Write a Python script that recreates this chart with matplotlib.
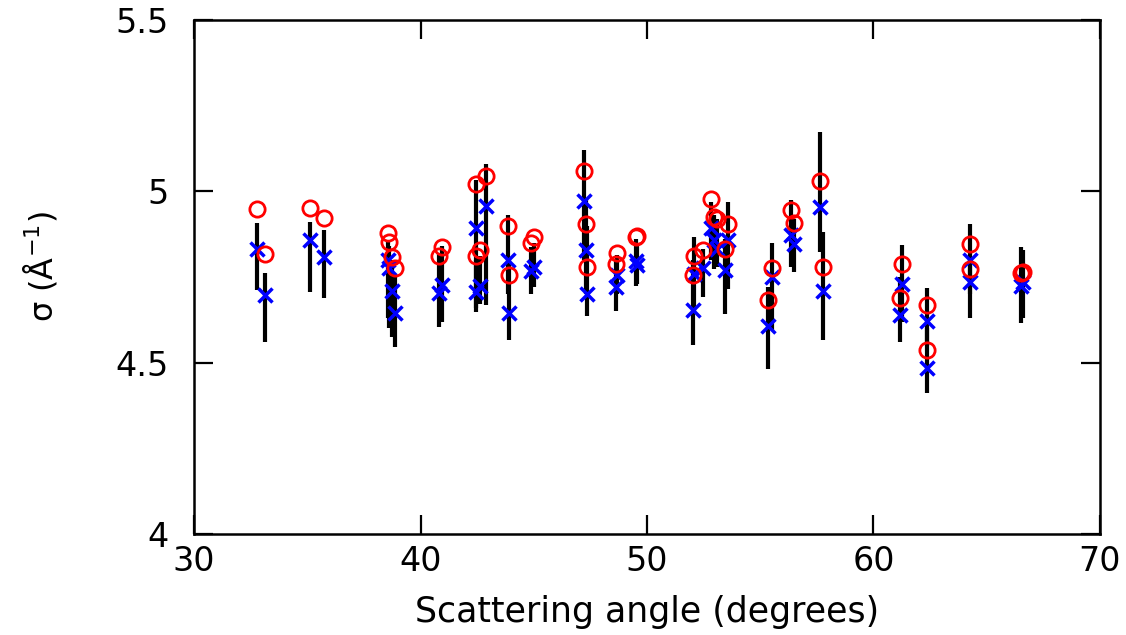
import matplotlib
matplotlib.use("Agg")
import matplotlib.pyplot as plt

angle = [32.77, 33.13, 35.12, 35.75, 38.55, 38.61, 38.73, 38.87, 40.83, 40.96,
         42.45, 42.88, 42.45, 42.63, 43.88, 43.90, 44.87, 45.01, 47.23, 47.29,
         47.33, 48.66, 48.62, 49.50, 49.55, 52.02, 52.09, 52.46, 52.83, 52.98,
         53.08, 53.56, 53.44, 55.50, 55.36, 56.36, 56.50, 57.64, 57.76, 61.24,
         61.17, 62.38, 62.38, 64.26, 64.26, 66.50, 66.62]
sigma_circle = [4.948, 4.818, 4.950, 4.923, 4.877, 4.852, 4.808, 4.775, 4.810, 4.838,
                5.020, 5.044, 4.810, 4.828, 4.899, 4.755, 4.848, 4.867, 5.059, 4.906,
                4.779, 4.820, 4.789, 4.867, 4.870, 4.755, 4.810, 4.830, 4.977, 4.925,
                4.920, 4.906, 4.833, 4.775, 4.682, 4.945, 4.908, 5.029, 4.778, 4.789,
                4.689, 4.668, 4.538, 4.845, 4.773, 4.763, 4.765]
sigma_cross = [4.831, 4.697, 4.857, 4.807, 4.799, 4.775, 4.709, 4.646, 4.702, 4.728,
               4.894, 4.957, 4.706, 4.723, 4.799, 4.646, 4.767, 4.779, 4.972, 4.828,
               4.700, 4.755, 4.721, 4.797, 4.784, 4.655, 4.758, 4.776, 4.894, 4.857,
               4.833, 4.857, 4.770, 4.750, 4.607, 4.872, 4.845, 4.955, 4.708, 4.731,
               4.639, 4.621, 4.485, 4.799, 4.736, 4.724, 4.736]
bar_low = [4.711, 4.561, 4.705, 4.689, 4.630, 4.600, 4.575, 4.546, 4.604, 4.620,
           4.648, 4.668, 4.660, 4.670, 4.700, 4.566, 4.700, 4.720, 4.800, 4.700,
           4.636, 4.700, 4.651, 4.724, 4.730, 4.551, 4.650, 4.692, 4.800, 4.772,
           4.780, 4.716, 4.641, 4.595, 4.483, 4.780, 4.765, 4.823, 4.566, 4.620,
           4.559, 4.550, 4.413, 4.700, 4.631, 4.617, 4.630]
bar_high = [4.907, 4.763, 4.911, 4.888, 4.857, 4.840, 4.800, 4.760, 4.820, 4.840,
            5.032, 5.081, 4.800, 4.810, 4.930, 4.800, 4.838, 4.850, 5.122, 4.980,
            4.900, 4.813, 4.800, 4.862, 4.850, 4.800, 4.867, 4.833, 4.970, 4.930,
            4.920, 4.969, 4.860, 4.850, 4.721, 4.974, 4.920, 5.172, 4.881, 4.843,
            4.750, 4.718, 4.600, 4.906, 4.800, 4.838, 4.830]

x_ticks = [30, 40, 50, 60, 70]
y_ticks = [4, 4.5, 5, 5.5]
y_tick_labels = ["4", "4.5", "5", "5.5"]

fig = plt.figure(figsize=(11.26, 6.35), dpi=100)
ax = fig.add_axes([0.1723, 0.159, 0.8046, 0.8095])

ax.vlines(angle, bar_low, bar_high, colors="black", linewidth=3, zorder=2)
ax.plot(angle, sigma_cross, linestyle="none", marker="x", color="#0000ff",
        markersize=10, markeredgewidth=2.5, zorder=3)
ax.plot(angle, sigma_circle, linestyle="none", marker="o", markerfacecolor="none",
        markeredgecolor="#ff0000", markersize=11, markeredgewidth=2, zorder=4)

ax.set_xlim(30, 70)
ax.set_ylim(4, 5.5)
ax.set_xticks(x_ticks)
ax.set_yticks(y_ticks)
ax.set_yticklabels(y_tick_labels)
ax.tick_params(direction="in", length=14, width=1.6, top=True, right=True,
               labelsize=24)
ax.tick_params(axis="y", pad=18)
ax.tick_params(axis="x", pad=8)
for s in ax.spines.values():
    s.set_linewidth(1.8)

ax.set_xlabel("Scattering angle (degrees)", fontsize=25, labelpad=12)
ax.set_ylabel("σ (Å$^{-1}$)", fontsize=23)
ax.yaxis.set_label_coords(-0.148, 0.52)

fig.savefig("out.png", dpi=100)
